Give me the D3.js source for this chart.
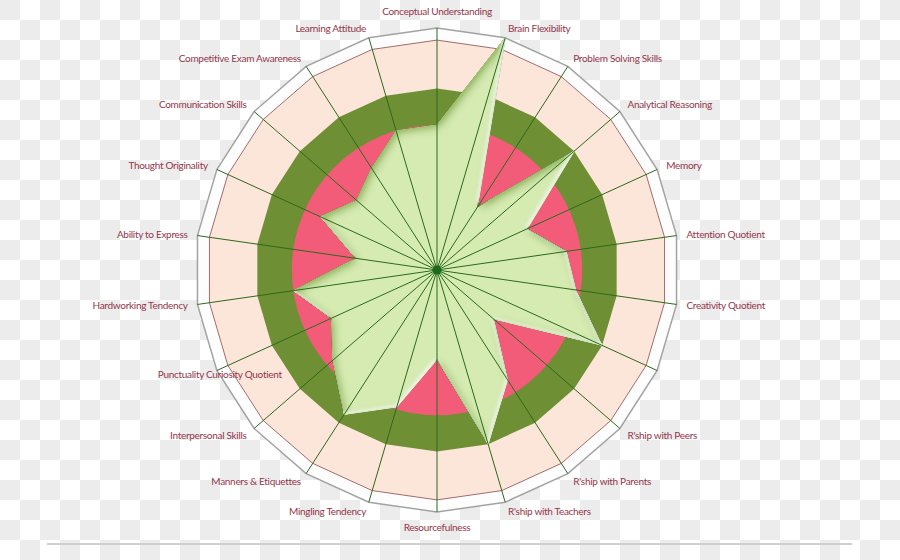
<!DOCTYPE html>
<html>
<head>
<meta charset="utf-8">
<script src="https://cdn.jsdelivr.net/npm/d3@7"></script>
<style>
  html, body { margin: 0; padding: 0; background: #fff; }
  svg { display: block; }
  .lbl { font-family: Lato, "Open Sans", sans-serif; font-size: 10px; letter-spacing: -0.3px; fill: #94364a; }
</style>
</head>
<body>
<svg id="chart" width="900" height="560"></svg>
<script>
// ---- data ----
const categories = [
  "Conceptual Understanding", "Brain Flexibility", "Problem Solving Skills",
  "Analytical Reasoning", "Memory", "Attention Quotient", "Creativity Quotient",
  "", "R'ship with Peers", "R'ship with Parents", "R'ship with Teachers",
  "Resourcefulness", "Mingling Tendency", "Manners & Etiquettes",
  "Interpersonal Skills", "Punctuality Curiosity Quotient", "Hardworking Tendency",
  "Ability to Express", "Thought Originality", "Communication Skills",
  "Competitive Exam Awareness", "Learning Attitude"
];
const scores = [60, 100, 31, 75, 41, 54, 58, 75, 31, 54, 75, 37, 59, 71, 57, 48, 60, 34, 53, 44, 50, 60];
// band limits (score scale 0-100)
const bandLow = [0, 60];      // pink zone
const bandMid = [60, 75];     // green zone
const bandHigh = [75, 95];    // peach zone
const bandTop = [95, 100];    // white zone
const scoreMax = 100;

// ---- layout ----
const svg = d3.select("#chart");
const W = 900, H = 560;
const cx = 437, cy = 270, R = 242;

// checkered background
const defs = svg.append("defs");
const pat = defs.append("pattern").attr("id", "checker")
  .attr("width", 40).attr("height", 40).attr("patternUnits", "userSpaceOnUse");
pat.append("rect").attr("width", 40).attr("height", 40).attr("fill", "#ffffff");
pat.append("rect").attr("x", 0).attr("y", 0).attr("width", 20).attr("height", 20).attr("fill", "#ececec");
pat.append("rect").attr("x", 20).attr("y", 20).attr("width", 20).attr("height", 20).attr("fill", "#ececec");
svg.append("rect").attr("width", W).attr("height", H).attr("fill", "url(#checker)");

// bevel filter for data shape
const f = defs.append("filter").attr("id", "bevel").attr("x", "-5%").attr("y", "-5%").attr("width", "110%").attr("height", "110%");
f.append("feGaussianBlur").attr("in", "SourceAlpha").attr("stdDeviation", 5).attr("result", "blur");
f.append("feOffset").attr("in", "blur").attr("dx", 1.5).attr("dy", 1.5).attr("result", "offBlur");
f.append("feComposite").attr("in", "SourceAlpha").attr("in2", "offBlur").attr("operator", "arithmetic")
  .attr("k1", 0).attr("k2", 1.6).attr("k3", -1.6).attr("k4", 0).attr("result", "edge");
f.append("feFlood").attr("flood-color", "#9dbf6e").attr("result", "col");
f.append("feComposite").attr("in", "col").attr("in2", "edge").attr("operator", "in").attr("result", "shade");
f.append("feGaussianBlur").attr("in", "SourceAlpha").attr("stdDeviation", 2).attr("result", "blur2");
f.append("feOffset").attr("in", "blur2").attr("dx", -2.5).attr("dy", -2.5).attr("result", "offBlur2");
f.append("feComposite").attr("in", "SourceAlpha").attr("in2", "offBlur2").attr("operator", "arithmetic")
  .attr("k1", 0).attr("k2", 1).attr("k3", -1).attr("k4", 0).attr("result", "edge2");
f.append("feFlood").attr("flood-color", "#f6fce9").attr("result", "col2");
f.append("feComposite").attr("in", "col2").attr("in2", "edge2").attr("operator", "in").attr("result", "hi");
const fm = f.append("feMerge");
fm.append("feMergeNode").attr("in", "SourceGraphic");
fm.append("feMergeNode").attr("in", "shade");
fm.append("feMergeNode").attr("in", "hi");

const n = categories.length;
const angle = d3.scaleLinear().domain([0, n]).range([0, 2 * Math.PI]);
const r = d3.scaleLinear().domain([0, scoreMax]).range([0, R]);

const g = svg.append("g").attr("transform", `translate(${cx},${cy})`);

const ring = v => d3.lineRadial()
  .angle((d, i) => angle(i))
  .radius(() => r(v))
  .curve(d3.curveLinearClosed)(categories);

// white outer zone
g.append("path").attr("d", ring(bandTop[1])).attr("fill", "#fdfdfd").attr("stroke", "#a3a3a3").attr("stroke-width", 1.5);
// peach zone
g.append("path").attr("d", ring(bandHigh[1])).attr("fill", "#fce5d9").attr("stroke", "#a26c6c").attr("stroke-width", 1);
// green zone
g.append("path").attr("d", ring(bandMid[1])).attr("fill", "#6f8f34");
// pink zone (circle)
g.append("circle").attr("r", r(bandLow[1])).attr("fill", "#f35c78");

// data polygon
const dataLine = d3.lineRadial()
  .angle((d, i) => angle(i))
  .radius(d => r(d))
  .curve(d3.curveLinearClosed);
g.append("path").attr("d", dataLine(scores))
  .attr("fill", "#d6ebb2").attr("stroke", "#47752a").attr("stroke-width", 1)
  .attr("filter", "url(#bevel)");

// spokes
g.selectAll("line.spoke").data(categories).enter().append("line")
  .attr("class", "spoke")
  .attr("x1", 0).attr("y1", 0)
  .attr("x2", (d, i) => r(scoreMax) * Math.sin(angle(i)))
  .attr("y2", (d, i) => -r(scoreMax) * Math.cos(angle(i)))
  .attr("stroke", "#2b6a1c").attr("stroke-width", 1);

// centre dot
g.append("circle").attr("r", 4.5).attr("fill", "#1c6a1c");

// labels
const LR = 252;
g.selectAll("text.lbl").data(categories).enter().append("text")
  .attr("class", "lbl")
  .attr("x", (d, i) => {
    const x = LR * Math.sin(angle(i));
    return d.length > 26 && Math.sin(angle(i)) < 0 && Math.cos(angle(i)) < 0 ? x + 12 : x;
  })
  .attr("y", (d, i) => {
    const a = angle(i), s = Math.sin(a), c = Math.cos(a);
    let y = -LR * c;
    if (Math.abs(s) < 1e-6) y += c > 0 ? -7 : 5;
    return y;
  })
  .attr("dy", "0.35em")
  .attr("text-anchor", (d, i) => {
    const a = angle(i), s = Math.sin(a), c = Math.cos(a);
    if (Math.abs(s) < 1e-6) return "middle";
    if (d.length > 26 && s < 0 && c < 0) return "middle";
    return s > 0 ? "start" : "end";
  })
  .text(d => d);

// bottom separator line
svg.append("line").attr("x1", 47).attr("x2", 852).attr("y1", 544).attr("y2", 544)
  .attr("stroke", "#cfcfcf").attr("stroke-width", 2);
</script>
</body>
</html>
